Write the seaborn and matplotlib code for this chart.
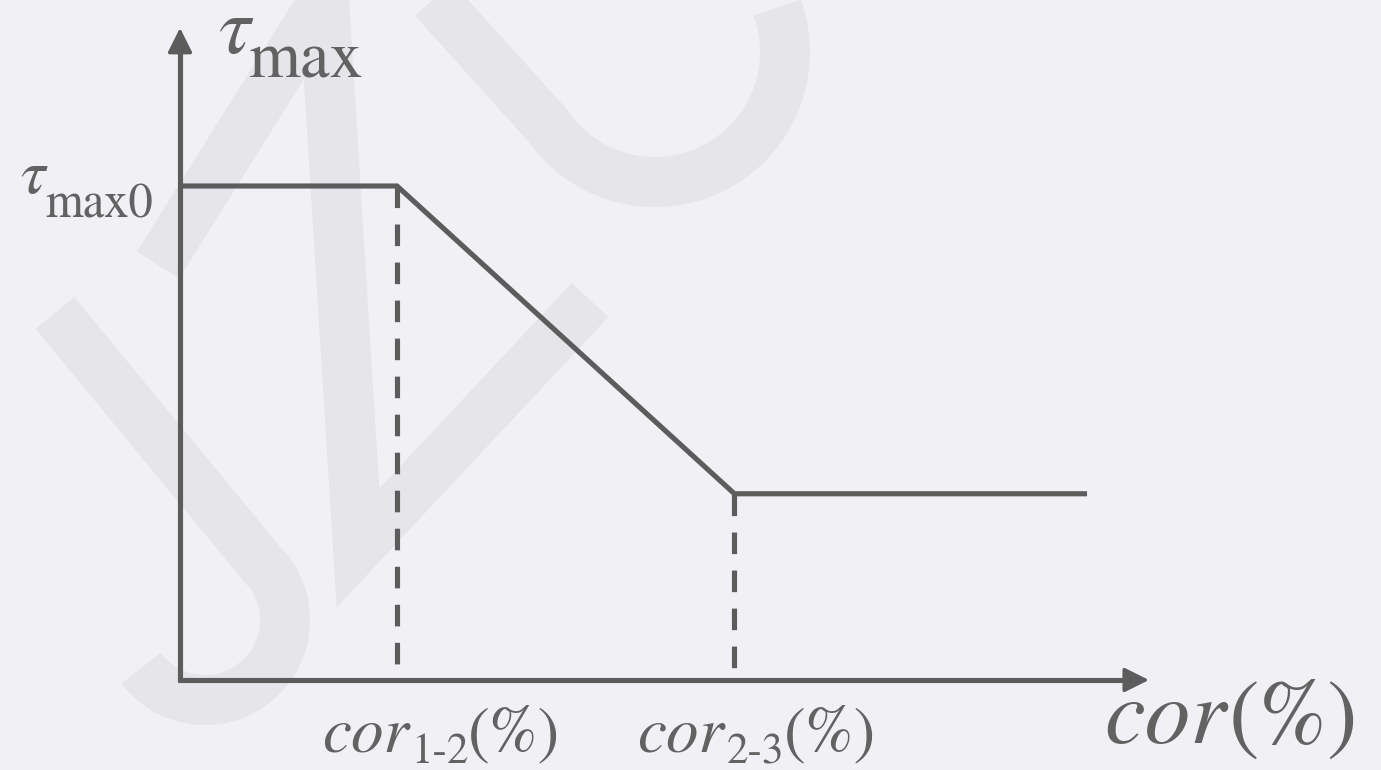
import matplotlib
matplotlib.use("Agg")
import matplotlib.pyplot as plt
import numpy as np
import pandas as pd
import seaborn as sns

# Piecewise bond-strength degradation vs. corrosion rate
cor_points = [0.0, 2.0, 5.11, 8.36]      # 0, cor_1-2, cor_2-3, end of plateau
tau_points = [1.0, 1.0, 0.377, 0.377]    # tau_max0 plateau, linear drop, residual
cor_breaks = [2.0, 5.11]                 # dashed guide positions
cor_axis_end = 8.93
tau_axis_end = 1.32

break_subs = ["1-2", "2-3"]

sns.set_theme(style="white")
plt.rcParams["font.family"] = ["STIXGeneral", "DejaVu Serif"]

BG = "#f1f1f5"
INK = "#5c5c5c"
TXT = "#626262"
LW = 3.7

fig = plt.figure(figsize=(13.81, 7.70), dpi=100, facecolor=BG)

# faint background watermark strokes (figure pixel coordinates)
wm = fig.add_axes([0, 0, 1, 1], zorder=0)
wm.set_xlim(0, 1381)
wm.set_ylim(770, 0)
wm.axis("off")
wm.set_facecolor(BG)
WM = "#e5e5ea"
stroke = dict(color=WM, lw=36, solid_capstyle="butt", solid_joinstyle="miter")
wm.plot([158, 324, 358, 590], [265, 0, 548, 300], **stroke)
wm.plot([55, 266], [313, 569], **stroke)
th = np.radians(np.linspace(-40, 143, 80))
wm.plot(205 + 80 * np.cos(th), 620 + 80 * np.sin(th), **stroke)
wm.plot([430, 550], [-5, 128], **stroke)
th = np.radians(np.linspace(146, -20, 80))
wm.plot(655 + 130 * np.cos(th), 52 + 130 * np.sin(th), **stroke)

ax = fig.add_axes([0, 0, 1, 1], zorder=1)
ax.patch.set_alpha(0)
ax.set_xlim(-180 / 108.5, 1201 / 108.5)
ax.set_ylim(-90 / 494, 680 / 494)
ax.axis("off")

df = pd.DataFrame({"cor": cor_points, "tau": tau_points})
sns.lineplot(data=df, x="cor", y="tau", ax=ax, color=INK, lw=LW, sort=False,
             solid_joinstyle="miter", solid_capstyle="butt")

# dashed guides from the curve down to the axis
tau_at = np.interp(cor_breaks, cor_points, tau_points)
for xb, yb in zip(cor_breaks, tau_at):
    ax.plot([xb, xb], [yb, 0], color=INK, lw=LW, dashes=(4.2, 3.2))

# axes with arrow heads
arrow = dict(arrowstyle="-|>,head_length=1.0,head_width=0.5", lw=2.5, color=INK,
             shrinkA=0, shrinkB=0, mutation_scale=15)
ax.plot([-0.02, cor_axis_end - 0.1], [0, 0], color=INK, lw=LW, solid_capstyle="butt")
ax.plot([0, 0], [-0.005, tau_axis_end - 0.02], color=INK, lw=LW, solid_capstyle="butt")
ax.annotate("", xy=(cor_axis_end, 0), xytext=(cor_axis_end - 0.2, 0), arrowprops=arrow)
ax.annotate("", xy=(0, tau_axis_end), xytext=(0, tau_axis_end - 0.05), arrowprops=arrow)

renderer = fig.canvas.get_renderer()


def label(xy, dx, dy, pieces):
    """Write a label as consecutive text runs (main text, subscripts, ...).

    pieces: (text, fontsize, italic, baseline shift in px, extra gap in px)
    """
    x = dx
    for s, size, italic, shift, gap in pieces:
        x += gap
        t = ax.annotate(s, xy=xy, xytext=(x, dy - shift), textcoords="offset pixels",
                        fontsize=size, style="italic" if italic else "normal",
                        color=TXT, ha="left", va="baseline")
        x += t.get_window_extent(renderer).width


# axis titles
label((0, tau_axis_end), 38, -25, [("τ", 58, True, 0, 0), ("max", 48, False, 25, -2)])
label((cor_axis_end, 0), -45, -63, [("cor", 66, True, 0, 0), ("(%)", 66, False, 0, 3)])

# tau_max0 marker on the vertical axis
label((0, tau_points[0]), -160, -7, [("τ", 45, True, 0, 0), ("max0", 35, False, 24, 0)])

# break-point labels under the horizontal axis
for xb, sub, dx in zip(cor_breaks, break_subs, [-75, -97]):
    label((xb, 0), dx, -71, [("cor", 47, True, 0, 0), (sub, 31, False, 12, 2),
                             ("(%)", 47, False, 0, 0)])

fig.savefig("out.png", dpi=100, facecolor=BG)
